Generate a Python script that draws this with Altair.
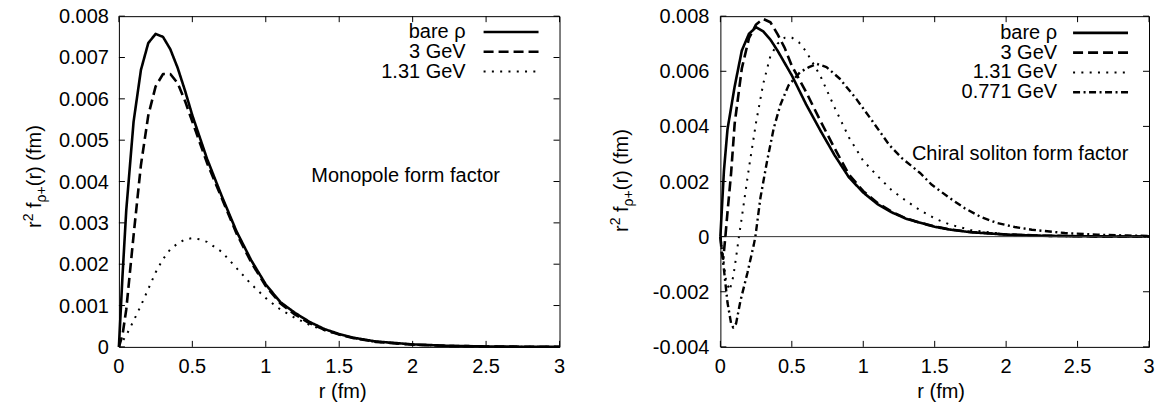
import altair as alt
import pandas as pd

FONT = "Liberation Sans"

# ---------------- data (values in units of 1e-3 fm) ----------------
# Left panel: monopole form factor
L_bare_r = [0, 0.025, 0.05, 0.1, 0.15, 0.2, 0.25, 0.3, 0.35, 0.4, 0.45, 0.5, 0.6, 0.7, 0.8, 0.9, 1.0,
            1.1, 1.2, 1.3, 1.4, 1.5, 1.6, 1.75, 2.0, 2.25, 2.5, 2.75, 3.0]
L_bare_v = [0, 1.75, 3.3, 5.45, 6.7, 7.35, 7.57, 7.5, 7.2, 6.75, 6.2, 5.6, 4.55, 3.65, 2.8, 2.1, 1.51,
            1.08, 0.82, 0.6, 0.43, 0.31, 0.22, 0.13, 0.06, 0.025, 0.01, 0.004, 0.002]
L_3gev_r = [0, 0.025, 0.05, 0.1, 0.15, 0.2, 0.25, 0.3, 0.35, 0.4, 0.45, 0.5, 0.6, 0.7, 0.8, 0.9, 1.0,
            1.1, 1.2, 1.3, 1.4, 1.5, 1.6, 1.75, 2.0, 2.25, 2.5, 2.75, 3.0]
L_3gev_v = [0, 0.3, 0.9, 2.7, 4.4, 5.6, 6.3, 6.6, 6.6, 6.38, 5.95, 5.45, 4.45, 3.6, 2.75, 2.05, 1.47,
            1.05, 0.78, 0.57, 0.41, 0.3, 0.21, 0.12, 0.055, 0.023, 0.009, 0.004, 0.002]
L_131_r = [0, 0.05, 0.1, 0.15, 0.2, 0.25, 0.3, 0.35, 0.4, 0.45, 0.5, 0.55, 0.6, 0.7, 0.8, 0.9, 1.0,
           1.1, 1.2, 1.3, 1.4, 1.5, 1.6, 1.75, 2.0, 2.25, 2.5, 2.75, 3.0]
L_131_v = [0, 0.28, 0.63, 1.0, 1.4, 1.8, 2.12, 2.36, 2.5, 2.6, 2.63, 2.6, 2.54, 2.3, 1.91, 1.52, 1.18,
           0.9, 0.7, 0.53, 0.4, 0.29, 0.21, 0.12, 0.05, 0.02, 0.008, 0.003, 0.001]

# Right panel: chiral soliton form factor
R_bare_r = [0, 0.025, 0.05, 0.1, 0.15, 0.2, 0.25, 0.3, 0.35, 0.4, 0.5, 0.6, 0.7, 0.8, 0.9, 1.0,
            1.1, 1.2, 1.3, 1.4, 1.5, 1.6, 1.75, 2.0, 2.25, 2.5, 2.75, 3.0]
R_bare_v = [0, 2.4, 3.9, 5.45, 6.75, 7.36, 7.6, 7.45, 7.15, 6.75, 5.85, 4.8, 3.85, 2.95, 2.15, 1.6,
            1.18, 0.88, 0.65, 0.5, 0.36, 0.26, 0.16, 0.075, 0.033, 0.014, 0.006, 0.003]
R_3gev_r = [0, 0.01, 0.02, 0.035, 0.05, 0.075, 0.1, 0.15, 0.2, 0.25, 0.3, 0.35, 0.4, 0.45, 0.5, 0.6,
            0.7, 0.8, 0.9, 1.0, 1.1, 1.2, 1.3, 1.4, 1.5, 1.6, 1.75, 2.0, 2.25, 2.5, 2.75, 3.0]
R_3gev_v = [0, -0.6, -0.8, 0, 0.9, 2.3, 4.1, 6.1, 7.2, 7.7, 7.9, 7.78, 7.35, 6.85, 6.2, 5.25,
            4.2, 3.2, 2.25, 1.65, 1.22, 0.9, 0.66, 0.5, 0.37, 0.27, 0.17, 0.08, 0.035, 0.015, 0.006, 0.003]
R_131_r = [0, 0.02, 0.04, 0.065, 0.09, 0.11, 0.13, 0.15, 0.2, 0.25, 0.3, 0.35, 0.4, 0.45, 0.5, 0.55,
           0.6, 0.7, 0.8, 0.9, 1.0, 1.1, 1.2, 1.3, 1.4, 1.5, 1.6, 1.75, 2.0, 2.25, 2.5, 2.75, 3.0]
R_131_v = [0, -0.8, -1.6, -1.95, -1.45, -0.75, 0, 0.7, 2.5, 4.15, 5.55, 6.55, 7.0, 7.22, 7.22, 7.05,
           6.72, 5.83, 4.68, 3.6, 2.75, 2.2, 1.68, 1.3, 0.95, 0.66, 0.45, 0.24, 0.08, 0.03, 0.012, 0.005, 0.002]
R_0771_r = [0, 0.025, 0.05, 0.075, 0.09, 0.11, 0.14, 0.19, 0.234, 0.245, 0.28, 0.326, 0.373, 0.419,
            0.477, 0.558, 0.62, 0.674, 0.743, 0.836, 0.951, 1.067, 1.183, 1.27, 1.4, 1.48, 1.6, 1.71,
            1.82, 1.94, 2.06, 2.18, 2.41, 2.64, 2.85, 3.0]
R_0771_v = [0, -1.2, -2.4, -3.15, -3.3, -3.15, -2.34, -1.3, -0.29, 0, 1.4, 2.72, 3.92, 4.77,
            5.49, 5.97, 6.15, 6.27, 6.15, 5.73, 5.0, 4.17, 3.32, 2.85, 2.3, 1.88, 1.42, 1.03,
            0.72, 0.49, 0.35, 0.25, 0.13, 0.07, 0.04, 0.025]

X_TICKS = [0, 0.5, 1, 1.5, 2, 2.5, 3]
X_TICK_LABELS = ["0", "0.5", "1", "1.5", "2", "2.5", "3"]
L_Y_TICKS = [0, 0.001, 0.002, 0.003, 0.004, 0.005, 0.006, 0.007, 0.008]
L_Y_TICK_LABELS = ["0", "0.001", "0.002", "0.003", "0.004", "0.005", "0.006", "0.007", "0.008"]
R_Y_TICKS = [-0.004, -0.002, 0, 0.002, 0.004, 0.006, 0.008]
R_Y_TICK_LABELS = ["-0.004", "-0.002", "0", "0.002", "0.004", "0.006", "0.008"]

L_LABELS = ["bare \u03c1", "3 GeV", "1.31 GeV"]
R_LABELS = ["bare \u03c1", "3 GeV", "1.31 GeV", "0.771 GeV"]
X_TITLE = "r (fm)"

# line styles: (strokeDash, strokeWidth)
STYLES = [([1, 0], 2.6), ([10, 5], 2.6), ([2, 6.3], 2.0), ([7, 3.5, 2, 3.5], 2.4)]

H = 331
TICK = 6
FS = 20

ADV = {"r": 333, "2": 556, "f": 278, "\u03c1": 578, "+": 584, "(": 333, ")": 333, "m": 833, " ": 278}


def adv(s, size):
    return sum(ADV.get(c, 556) for c in s) * size / 1000.0


def txt(s, **kw):
    return alt.Chart(pd.DataFrame({"t": [s]})).mark_text(font=FONT, color="black", **kw)


def ytitle_layers(x_base, y_bottom):
    segs = [("r", FS, 0), ("2", 14, -8), ("f", FS, 0), ("\u03c1+", 14, 5), ("(r) (fm)", FS, 0)]
    layers = []
    y = y_bottom
    for s, size, shift in segs:
        if s == "f":
            y -= adv(" ", FS)
        layers.append(
            txt(s, angle=270, align="left", baseline="alphabetic", fontSize=size)
            .encode(text="t:N", x=alt.value(x_base + shift), y=alt.value(y))
        )
        y -= adv(s, size)
    return layers


def panel(series, labels, ydom, yticks, ylabels, W, note, note_xy, leg_text_x, leg_line_x, leg_y0,
          title_x, title_y, label_pad, xtitle_x, zero_line):
    xs = alt.Scale(domain=[0, 3], nice=False)
    ys = alt.Scale(domain=ydom, nice=False)
    layers = []
    for i, (r, v) in enumerate(series):
        dash, sw = STYLES[i]
        df = pd.DataFrame({"r": r, "v": [x * 1e-3 for x in v]})
        layers.append(
            alt.Chart(df).mark_line(color="black", strokeWidth=sw, strokeDash=dash,
                                    strokeCap="butt", strokeJoin="round").encode(
                x=alt.X("r:Q", scale=xs, axis=None),
                y=alt.Y("v:Q", scale=ys, axis=None),
            )
        )
    if zero_line:
        layers.append(
            alt.Chart(pd.DataFrame({"z": [0]})).mark_rule(color="#333", strokeWidth=1).encode(
                y=alt.Y("z:Q", scale=ys, axis=None))
        )
    xt = pd.DataFrame({"t": X_TICKS, "lab": X_TICK_LABELS})
    yt = pd.DataFrame({"t": yticks, "lab": ylabels})
    tick = dict(color="black", strokeWidth=1)
    layers += [
        alt.Chart(xt).mark_rule(**tick).encode(x=alt.X("t:Q", scale=xs, axis=None),
                                               y=alt.value(H), y2=alt.value(H - TICK)),
        alt.Chart(xt).mark_rule(**tick).encode(x=alt.X("t:Q", scale=xs, axis=None),
                                               y=alt.value(0), y2=alt.value(TICK)),
        alt.Chart(yt).mark_rule(**tick).encode(y=alt.Y("t:Q", scale=ys, axis=None),
                                               x=alt.value(0), x2=alt.value(TICK)),
        alt.Chart(yt).mark_rule(**tick).encode(y=alt.Y("t:Q", scale=ys, axis=None),
                                               x=alt.value(W), x2=alt.value(W - TICK)),
        # tick labels
        alt.Chart(xt).mark_text(font=FONT, color="black", fontSize=FS, align="center",
                                baseline="alphabetic").encode(
            x=alt.X("t:Q", scale=xs, axis=None), y=alt.value(H + 26), text="lab:N"),
        alt.Chart(yt).mark_text(font=FONT, color="black", fontSize=FS, align="right",
                                baseline="alphabetic", dy=7).encode(
            y=alt.Y("t:Q", scale=ys, axis=None), x=alt.value(-label_pad), text="lab:N"),
        # x title
        txt(X_TITLE, fontSize=FS, align="center", baseline="alphabetic").encode(
            text="t:N", x=alt.value(xtitle_x), y=alt.value(H + 51)),
    ]
    # legend (gnuplot style: label then sample on the right)
    for i, lab in enumerate(labels):
        yy = leg_y0 + i * 19.8
        dash, sw = STYLES[i]
        layers.append(
            txt(lab, align="right", baseline="middle", fontSize=FS)
            .encode(text="t:N", x=alt.value(leg_text_x), y=alt.value(yy))
        )
        layers.append(
            alt.Chart(pd.DataFrame({"t": [lab]})).mark_rule(
                color="black", strokeWidth=sw, strokeDash=dash, strokeCap="butt"
            ).encode(x=alt.value(leg_line_x[0]), x2=alt.value(leg_line_x[1]), y=alt.value(yy))
        )
    layers.append(
        txt(note, align="center", baseline="middle", fontSize=FS)
        .encode(text="t:N", x=alt.value(note_xy[0]), y=alt.value(note_xy[1]))
    )
    layers += ytitle_layers(title_x, title_y)
    return alt.layer(*layers).properties(width=W, height=H)


left = panel([(L_bare_r, L_bare_v), (L_3gev_r, L_3gev_v), (L_131_r, L_131_v)], L_LABELS,
             [0, 0.008], L_Y_TICKS, L_Y_TICK_LABELS, 441, "Monopole form factor", (287, 160),
             347, (365, 420), 15.8, -78, 212, 10, 224, False)
right = panel([(R_bare_r, R_bare_v), (R_3gev_r, R_3gev_v), (R_131_r, R_131_v), (R_0771_r, R_0771_v)],
              R_LABELS, [-0.004, 0.008], R_Y_TICKS, R_Y_TICK_LABELS, 429,
              "Chiral soliton form factor", (300, 138),
              337, (353, 408), 16.7, -92, 216, 11, 221, True)

chart = alt.hconcat(left, right, spacing=161, bounds="flush").properties(
    padding={"left": 13, "top": -2, "right": 0, "bottom": 0}
).configure_view(stroke="black", strokeWidth=1)

chart.save("out.html", embed_options={"renderer": "svg", "actions": False})
